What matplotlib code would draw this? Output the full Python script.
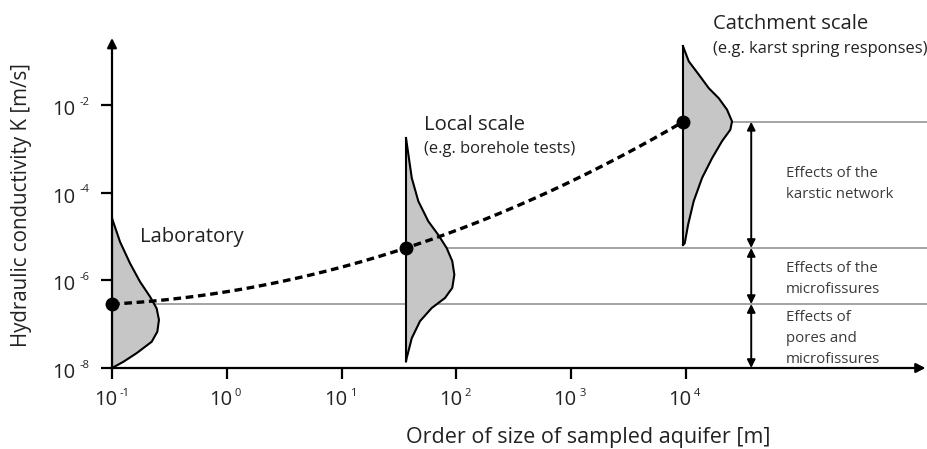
import numpy as np
import matplotlib.pyplot as plt

plt.rcParams['font.family'] = ['Open Sans', 'DejaVu Sans']

# -------------------- data --------------------
scales = ['Laboratory', 'Local scale', 'Catchment scale']
subtitles = ['', '(e.g. borehole tests)', '(e.g. karst spring responses)']
scale_x = [0.1, 36.4, 9420.0]              # sampled size [m]
scale_logK = [-6.54, -5.26, -2.38]          # log10 K of the marked point

# distribution outlines: log10 K and width to the right (decades of x)
lab_logK = [-4.58, -5.12, -5.61, -6.03, -6.37, -6.64, -6.90, -7.17, -7.40, -7.66, -7.86, -8.0]
lab_width = [0.0, 0.07, 0.157, 0.244, 0.331, 0.389, 0.409, 0.395, 0.346, 0.215, 0.098, 0.0]

local_logK = [-2.75, -3.66, -4.19, -4.65, -4.96, -5.26, -5.56, -5.87, -6.17, -6.40, -6.63, -6.93, -7.32, -7.77, -7.85]
local_width = [0.0, 0.05, 0.107, 0.194, 0.281, 0.354, 0.403, 0.421, 0.403, 0.340, 0.224, 0.122, 0.05, 0.006, 0.0]

catch_logK = [-0.655, -0.998, -1.30, -1.61, -1.84, -2.10, -2.37, -2.56, -2.82, -3.21, -3.66, -4.19, -4.73, -5.15, -5.19]
catch_width = [0.0, 0.05, 0.137, 0.224, 0.311, 0.383, 0.427, 0.412, 0.340, 0.253, 0.166, 0.093, 0.044, 0.015, 0.0]

outlines = [(lab_logK, lab_width), (local_logK, local_width), (catch_logK, catch_width)]

x_ticks = [1e-1, 1e0, 1e1, 1e2, 1e3, 1e4]
x_exps = ['-1', '0', '1', '2', '3', '4']
y_ticks = [1e-8, 1e-6, 1e-4, 1e-2]
y_exps = ['-8', '-6', '-4', '-2']

arrow_x = 3.7e4
effects = ['Effects of the\nkarstic network', 'Effects of the\nmicrofissures',
           'Effects of\npores and\nmicrofissures']
effects_logK = [-3.80, -5.97, -7.32]

# -------------------- figure --------------------
fig = plt.figure(figsize=(9.28, 4.49), dpi=100)
ax = fig.add_axes([112/928, 1 - 368/449, 816/928, 330/449])
ax.set_xscale('log')
ax.set_yscale('log')
xmax = 10 ** (-1 + 816/114.8)
ax.set_xlim(0.1, xmax)
ax.set_ylim(1e-8, 10 ** (-8 + 330/43.8))

# distributions
for (lk, w), x0 in zip(outlines, scale_x):
    xs = x0 * 10 ** np.array(w)
    ys = 10 ** np.array(lk)
    ax.fill_betweenx(ys, x0, xs, color='#c6c6c6', lw=0, zorder=2)
    ax.plot(xs, ys, color='black', lw=1.5, zorder=3, solid_joinstyle='round')
    ax.plot([x0, x0], [ys.min(), ys.max()], color='black', lw=1.5, zorder=3)

# horizontal reference lines
for x0, lk in zip(scale_x, scale_logK):
    ax.plot([x0, xmax], [10 ** lk, 10 ** lk], color='#8a8a8a', lw=1.1, zorder=1, clip_on=False)

# dashed trend through the three points (quadratic in log-log space)
c = np.polyfit(np.log10(scale_x), scale_logK, 2)
u = np.linspace(np.log10(scale_x[0]), np.log10(scale_x[-1]), 200)
ax.plot(10 ** u, 10 ** np.polyval(c, u), color='black', lw=2.4, ls=(0, (2.3, 1.4)), zorder=4)
ax.plot(scale_x, [10 ** v for v in scale_logK], 'o', color='black', ms=9, zorder=5, clip_on=False)

# double arrows
bounds = [scale_logK[2], scale_logK[1], scale_logK[0], -8.0]
for top, bot in zip(bounds[:-1], bounds[1:]):
    ax.annotate('', xy=(arrow_x, 10 ** bot), xytext=(arrow_x, 10 ** top),
                arrowprops=dict(arrowstyle='<|-|>', color='black', lw=1.4,
                                mutation_scale=12, shrinkA=0, shrinkB=0))
for txt, lk in zip(effects, effects_logK):
    ax.text(10 ** 4.871, 10 ** lk, txt, fontsize=10.8, color='#3a3a3a', va='center', ha='left',
            linespacing=1.55)

# scale labels
ax.text(10 ** -0.756, 10 ** -5.01, scales[0], fontsize=14.6, va='center', ha='left', color='#222222')
ax.text(10 ** 1.718, 10 ** -2.45, scales[1], fontsize=14.6, va='center', ha='left', color='#222222')
ax.text(10 ** 1.718, 10 ** -3.0, subtitles[1], fontsize=11.9, va='center', ha='left', color='#222222')
ax.text(10 ** 4.235, 10 ** -0.146, scales[2], fontsize=14.6, va='center', ha='left', color='#222222', clip_on=False)
ax.text(10 ** 4.235, 10 ** -0.717, subtitles[2], fontsize=11.9, va='center', ha='left', color='#222222')

# axes with arrow heads
for s in ax.spines.values():
    s.set_visible(False)
ax.annotate('', xy=(0, 1), xytext=(0, 0), xycoords='axes fraction',
            arrowprops=dict(arrowstyle='-|>', color='black', lw=1.6, mutation_scale=14, shrinkA=0, shrinkB=0))
ax.annotate('', xy=(0.997, 0), xytext=(0, 0), xycoords='axes fraction',
            arrowprops=dict(arrowstyle='-|>', color='black', lw=1.6, mutation_scale=14, shrinkA=0, shrinkB=0))

ax.set_xticks(x_ticks)
ax.set_yticks(y_ticks)
ax.set_xticklabels([])
ax.set_yticklabels([])
ax.minorticks_off()
ax.tick_params(length=8, width=1.6, colors='black')

# tick labels: "10" with a small raised exponent
for xt, e in zip(x_ticks, x_exps):
    ax.annotate('10', xy=(xt, 0), xycoords=('data', 'axes fraction'), xytext=(-6, -32),
                textcoords='offset pixels', ha='center', va='center', fontsize=14.5, color='#222222')
    ax.annotate(e, xy=(xt, 0), xycoords=('data', 'axes fraction'), xytext=(8, -25),
                textcoords='offset pixels', ha='left', va='center', fontsize=8, color='#222222')
for yt, e in zip(y_ticks, y_exps):
    ax.annotate('10', xy=(0, yt), xycoords=('axes fraction', 'data'), xytext=(-48, -5),
                textcoords='offset pixels', ha='center', va='center', fontsize=14.5, color='#222222')
    ax.annotate(e, xy=(0, yt), xycoords=('axes fraction', 'data'), xytext=(-32, 3),
                textcoords='offset pixels', ha='left', va='center', fontsize=8, color='#222222')

fig.text(22/928, 1 - 205/449, 'Hydraulic conductivity K [m/s]', rotation=90, fontsize=14.8,
         va='center', ha='center', color='#222222')
fig.text(588/928, 1 - 437/449, 'Order of size of sampled aquifer [m]', fontsize=15.5,
         va='center', ha='center', color='#222222')

fig.savefig('out.png', dpi=100)
